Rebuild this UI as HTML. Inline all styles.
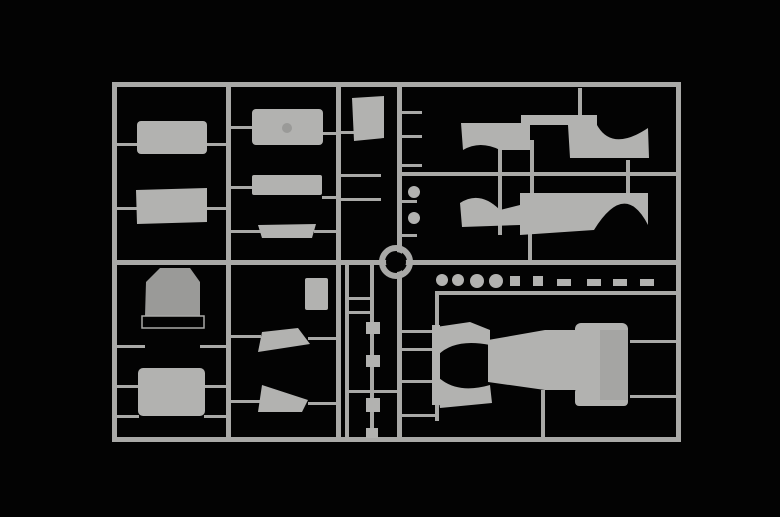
<!DOCTYPE html>
<html><head><style>html,body{margin:0;padding:0;background:#000;}svg{display:block}</style></head>
<body>
<svg width="780" height="517" viewBox="0 0 780 517" xmlns="http://www.w3.org/2000/svg">
<rect width="780" height="517" fill="#030303"/>
<g fill="#a9a9a7" stroke="none">
<!-- frame -->
<rect x="112" y="82" width="569" height="5"/>
<rect x="112" y="437" width="569" height="5"/>
<rect x="112" y="82" width="5" height="360"/>
<rect x="676" y="82" width="5" height="360"/>
<rect x="112" y="260" width="569" height="5"/>
<rect x="226" y="82" width="5" height="360"/>
<rect x="336" y="82" width="5" height="360"/>
<rect x="397" y="82" width="5" height="360"/>
<rect x="345" y="262" width="4" height="178"/>
<rect x="541" y="390" width="4" height="50"/>
<!-- right runners -->
<rect x="400" y="172" width="278" height="4"/>
<rect x="435" y="291" width="243" height="4"/>
<rect x="435" y="291" width="4" height="130"/>
<rect x="498" y="140" width="4" height="95"/>
<rect x="530" y="140" width="4" height="60"/>
<rect x="626" y="160" width="4" height="35"/>
<rect x="578" y="88" width="4" height="30"/>
<rect x="528" y="230" width="4" height="32"/>
<!-- small horizontals -->
<rect x="117" y="143" width="22" height="3"/><rect x="206" y="143" width="22" height="3"/>
<rect x="117" y="207" width="22" height="3"/><rect x="206" y="207" width="22" height="3"/>
<rect x="117" y="345" width="28" height="3"/><rect x="200" y="345" width="28" height="3"/>
<rect x="117" y="385" width="22" height="3"/><rect x="204" y="385" width="22" height="3"/>
<rect x="117" y="415" width="22" height="3"/><rect x="204" y="415" width="22" height="3"/>
<rect x="231" y="126" width="22" height="3"/><rect x="322" y="132" width="16" height="3"/>
<rect x="231" y="186" width="22" height="3"/><rect x="322" y="196" width="16" height="3"/>
<rect x="231" y="230" width="30" height="3"/><rect x="314" y="230" width="24" height="3"/>
<rect x="231" y="335" width="30" height="3"/><rect x="308" y="337" width="30" height="3"/>
<rect x="231" y="400" width="30" height="3"/><rect x="308" y="402" width="30" height="3"/>
<rect x="341" y="131" width="14" height="3"/><rect x="341" y="174" width="40" height="3"/>
<rect x="341" y="198" width="40" height="3"/><rect x="402" y="111" width="20" height="3"/>
<rect x="402" y="135" width="20" height="3"/><rect x="402" y="164" width="20" height="3"/>
<rect x="402" y="200" width="15" height="3"/><rect x="402" y="234" width="15" height="3"/>
<rect x="349" y="297" width="25" height="3"/><rect x="349" y="311" width="25" height="3"/>
<rect x="349" y="390" width="50" height="3"/><rect x="402" y="330" width="35" height="3"/>
<rect x="402" y="348" width="35" height="3"/><rect x="402" y="380" width="35" height="3"/>
<rect x="402" y="414" width="35" height="3"/><rect x="630" y="340" width="48" height="3"/>
<rect x="630" y="395" width="48" height="3"/>
<rect x="370" y="265" width="4" height="175"/>
</g>
<circle cx="396" cy="262" r="14" fill="none" stroke="#a9a9a7" stroke-width="6"/>
<circle cx="396" cy="262" r="10" fill="#030303"/>
<g fill="#b2b2b0">
<!-- left column -->
<rect x="137" y="121" width="70" height="33" rx="4"/>
<path d="M136 190 L207 188 L207 222 L137 224 Z"/>
<path d="M146 282 L160 268 L190 268 L200 282 L200 316 L145 316 Z" fill="#9a9a98"/>
<rect x="142" y="316" width="62" height="12" fill="none" stroke="#a9a9a7" stroke-width="1.5"/>
<rect x="138" y="368" width="67" height="48" rx="5"/>
<!-- column 2 -->
<rect x="252" y="109" width="71" height="36" rx="4"/>
<circle cx="287" cy="128" r="5" fill="#9a9a98"/>
<rect x="252" y="175" width="70" height="20" rx="2"/>
<path d="M258 225 L316 224 L312 238 L262 238 Z"/>
<rect x="305" y="278" width="23" height="32" rx="2"/>
<path d="M262 332 L298 328 L310 344 L258 352 Z"/>
<path d="M262 385 L308 400 L302 412 L258 412 Z"/>
<!-- column 3 -->
<path d="M352 98 L384 96 L384 138 L354 141 Z"/>
<rect x="366" y="322" width="14" height="12"/><rect x="366" y="355" width="14" height="12"/>
<rect x="366" y="398" width="14" height="14"/><rect x="366" y="428" width="12" height="10"/>
<circle cx="414" cy="192" r="6"/><circle cx="414" cy="218" r="6"/>
<!-- right side panels -->
<path d="M461 123 L530 123 L530 150 L500 150 Q480 140 463 150 Z"/>
<rect x="521" y="115" width="76" height="10"/>
<path d="M568 125 L597 125 Q612 152 648 128 L649 158 L570 158 Z"/>
<path d="M460 203 Q480 190 500 210 L520 205 L520 193 L648 193 L648 225 Q625 180 594 230 L520 235 L520 225 L462 227 Z"/>
<!-- small wheel row -->
<circle cx="442" cy="280" r="6"/><circle cx="458" cy="280" r="6"/>
<circle cx="477" cy="281" r="7"/><circle cx="496" cy="281" r="7"/>
<rect x="510" y="276" width="10" height="10"/><rect x="533" y="276" width="10" height="10"/>
<rect x="557" y="279" width="14" height="7"/><rect x="587" y="279" width="14" height="7"/>
<rect x="613" y="279" width="14" height="7"/><rect x="640" y="279" width="14" height="7"/>
<!-- chassis -->
<path d="M436 327 L470 322 L490 330 L490 345 Q455 338 438 355 Z"/>
<path d="M436 375 Q455 395 490 385 L492 403 L440 408 Z"/>
<rect x="432" y="325" width="8" height="80"/>
<path d="M488 340 L545 330 L600 330 L600 390 L545 390 L488 382 Z"/>
<rect x="575" y="323" width="53" height="18" rx="6"/>
<rect x="575" y="388" width="53" height="18" rx="4"/>
<rect x="600" y="330" width="28" height="70" fill="#a5a5a3"/>
</g>
</svg>
</body></html>
